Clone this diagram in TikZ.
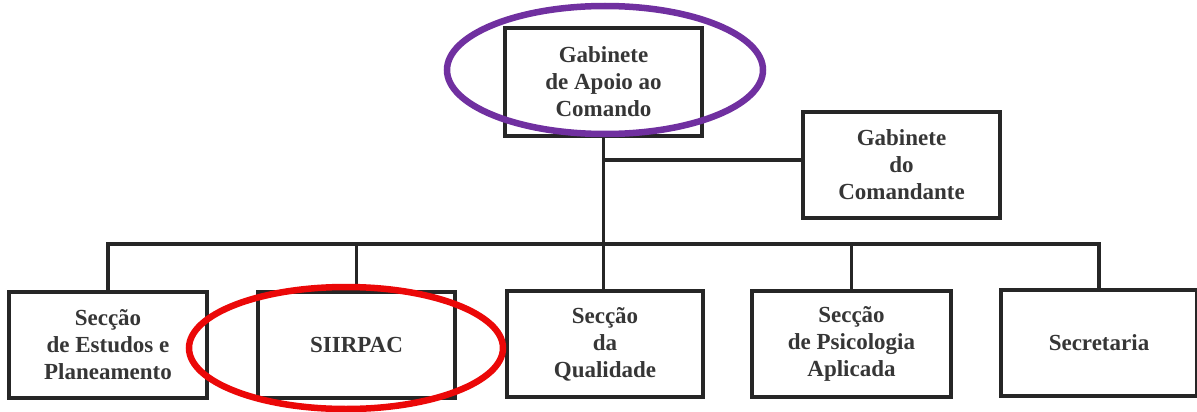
\documentclass[tikz,border=0pt]{standalone}
\usepackage{fontspec}
\usetikzlibrary{calc}
\setmainfont{Liberation Serif}
\definecolor{inkc}{HTML}{262626}
\definecolor{txtc}{HTML}{363636}
\definecolor{purplering}{RGB}{112,48,160}
\definecolor{redring}{RGB}{235,8,8}
\tikzset{
  orgbox/.style={draw=inkc, line width=3.2pt, fill=white, minimum width=197pt, minimum height=106pt,
    align=center, text=txtc, inner sep=0pt, font=\bfseries\fontsize{23}{27}\selectfont},
  link/.style={draw=inkc, line width=3.2pt},
  ring/.style={line width=6.5pt}
}
\begin{document}
\begin{tikzpicture}[x=1pt,y=-1pt]
\useasboundingbox (0,0) rectangle (1197,412);
\fill[white] (0,0) rectangle (1197,412);
% nodes
\node[orgbox, minimum height=108pt] (top) at (603.5,82) {Gabinete\\de Apoio ao\\Comando};
\node[orgbox] (gc) at (901.5,165) {Gabinete\\do\\Comandante};
\node[orgbox, minimum width=198pt] (b1) at (108,345) {Secção\\de Estudos e\\Planeamento};
\node[orgbox] (b2) at (356.5,345) {SIIRPAC};
\node[orgbox, minimum width=196pt] (b3) at (605,344) {Secção\\da\\Qualidade};
\node[orgbox, minimum width=199pt] (b4) at (851.5,344) {Secção\\de Psicologia\\Aplicada};
\node[orgbox, minimum width=196pt] (b5) at (1099,343) {Secretaria};
\coordinate (bus) at (0,244);
\coordinate (branch) at ($(gc.west)+(0,-5)$);
% connectors
\draw[link] (top.south) -- (top.south |- b3.north);
\draw[link] (branch) -- (branch -| top.south);
\draw[link] (b1.north) -- (b1.north |- bus) -- (b5.north |- bus) -- (b5.north);
\draw[link] (b2.north) -- (b2.north |- bus);
\draw[link] (b4.north) -- (b4.north |- bus);
% highlight rings
\draw[ring, purplering] (605,70) ellipse [x radius=158pt, y radius=64pt];
\draw[ring, redring] (346,348) ellipse [x radius=157pt, y radius=61pt];
\end{tikzpicture}
\end{document}
